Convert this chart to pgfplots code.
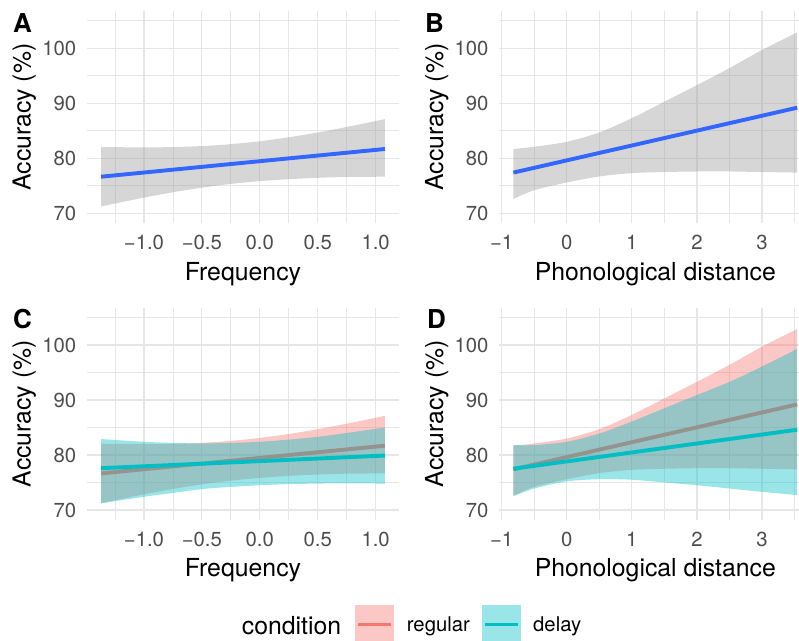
\documentclass[border=0pt]{standalone}
\usepackage{fontspec}
\setmainfont{TeX Gyre Heros}
\usepackage{pgfplots}
\pgfplotsset{compat=1.18}
\usepgfplotslibrary{fillbetween}
\definecolor{ggblue}{HTML}{3366FF}
\definecolor{ggpink}{HTML}{F8766D}
\definecolor{ggteal}{HTML}{00BFC4}
\definecolor{grid92}{RGB}{230,230,230}
\definecolor{grey30}{HTML}{4D4D4D}
\definecolor{grey60}{HTML}{999999}
\pgfplotsset{
 panel/.style={
  scale only axis, width=312.2pt, height=211.7pt, anchor=south west,
  ymin=68.25, ymax=106.75,
  ytick={70,80,90,100}, yticklabels={70,80,90,100},
  minor ytick={75,85,95,105},
  grid=both,
  major grid style={draw=grid92, line width=1.2pt},
  minor grid style={draw=grid92, line width=0.7pt},
  axis line style={draw=none},
  major tick length=0pt, minor tick length=0pt,
  tick label style={font=\fontsize{20.3}{24}\selectfont, text=grey30},
  xticklabel style={anchor=north, inner sep=0pt, yshift=-12pt},
  yticklabel style={anchor=east, inner sep=0pt, xshift=-10.5pt},
  label style={font=\fontsize{24.8}{29}\selectfont, text=black},
  xlabel style={at={(axis description cs:0.5,-0.1842)}, anchor=north, inner sep=0pt},
  ylabel style={at={(axis description cs:-0.2002,0.5)}, anchor=center, inner sep=0pt},
  ylabel={Accuracy (\%)},
 },
 freq/.style={xmin=-1.4925, xmax=1.2025, xtick={-1,-0.5,0,0.5,1},
  xticklabels={−1.0,−0.5,0.0,0.5,1.0}, minor xtick={-1.25,-0.75,-0.25,0.25,0.75}, xlabel={Frequency}},
 phon/.style={xmin=-1.038, xmax=3.758, xtick={-1,0,1,2,3},
  xticklabels={−1,0,1,2,3}, minor xtick={-0.5,0.5,1.5,2.5,3.5}, xlabel={Phonological distance}},
 edge/.style={draw=none, smooth, tension=0.5, forget plot},
 greyband/.style={draw=none, fill=grey60, fill opacity=0.4},
 pinkband/.style={draw=none, fill=ggpink, fill opacity=0.4},
 tealband/.style={draw=none, fill=ggteal, fill opacity=0.4},
}
\begin{document}
\begin{tikzpicture}
% ---------- A ----------
\begin{axis}[panel, freq, at={(86.9pt,417.1pt)}]
\addplot[edge, name path=au] coordinates {(-1.37,82.05) (-1.0,81.98) (-0.75,82.04) (-0.5,82.22) (-0.25,82.57) (0,83.10) (0.25,83.82) (0.5,84.69) (0.75,85.69) (1.08,87.12)};
\addplot[edge, name path=al] coordinates {(-1.37,71.25) (-1.0,72.85) (-0.75,73.82) (-0.5,74.66) (-0.25,75.34) (0,75.84) (0.25,76.2) (0.5,76.45) (0.75,76.6) (1.08,76.65)};
\addplot[greyband] fill between[of=au and al];
\addplot[ggblue, line width=3.9pt] coordinates {(-1.37,76.65) (1.08,81.69)};
\end{axis}
% ---------- B ----------
\begin{axis}[panel, phon, at={(499.2pt,417.1pt)}]
\addplot[edge, name path=bu] coordinates {(-0.82,81.7) (-0.5,82.1) (0,83.0) (0.5,84.7) (1,87.3) (1.5,90.3) (2,93.3) (2.5,96.4) (3,99.7) (3.54,102.9)};
\addplot[edge, name path=bl] coordinates {(-0.82,72.6) (-0.5,74.2) (0,75.6) (0.5,76.7) (1,77.3) (1.5,77.5) (2,77.6) (2.5,77.6) (3,77.5) (3.54,77.4)};
\addplot[greyband] fill between[of=bu and bl];
\addplot[ggblue, line width=3.9pt] coordinates {(-0.82,77.4) (3.54,89.2)};
\end{axis}
% ---------- C ----------
\begin{axis}[panel, freq, at={(86.9pt,120.4pt)}]
\addplot[edge, name path=cru] coordinates {(-1.37,82.05) (-1.0,81.98) (-0.75,82.04) (-0.5,82.22) (-0.25,82.57) (0,83.10) (0.25,83.82) (0.5,84.69) (0.75,85.69) (1.08,87.12)};
\addplot[edge, name path=crl] coordinates {(-1.37,71.25) (-1.0,72.85) (-0.75,73.82) (-0.5,74.66) (-0.25,75.34) (0,75.84) (0.25,76.2) (0.5,76.45) (0.75,76.6) (1.08,76.65)};
\addplot[pinkband] fill between[of=cru and crl];
\addplot[ggpink, line width=3.9pt, on layer=pre main] coordinates {(-1.37,76.65) (1.08,81.69)};
\addplot[edge, name path=cdu] coordinates {(-1.37,82.9) (-1.0,82.4) (-0.75,82.2) (-0.5,82.1) (-0.25,82.2) (0,82.4) (0.25,82.8) (0.5,83.3) (0.75,84.0) (1.08,85.0)};
\addplot[edge, name path=cdl] coordinates {(-1.37,71.2) (-1.0,72.4) (-0.75,73.1) (-0.5,73.8) (-0.25,74.2) (0,74.5) (0.25,74.7) (0.5,74.8) (0.75,74.85) (1.08,74.8)};
\addplot[tealband] fill between[of=cdu and cdl];
\addplot[ggteal, line width=3.9pt] coordinates {(-1.37,77.6) (1.08,79.9)};
\end{axis}
% ---------- D ----------
\begin{axis}[panel, phon, at={(499.2pt,120.4pt)}]
\addplot[edge, name path=dru] coordinates {(-0.82,81.7) (-0.5,82.1) (0,83.0) (0.5,84.7) (1,87.3) (1.5,90.3) (2,93.3) (2.5,96.4) (3,99.7) (3.54,102.9)};
\addplot[edge, name path=drl] coordinates {(-0.82,72.6) (-0.5,74.2) (0,75.6) (0.5,76.7) (1,77.3) (1.5,77.5) (2,77.6) (2.5,77.6) (3,77.5) (3.54,77.4)};
\addplot[pinkband] fill between[of=dru and drl];
\addplot[ggpink, line width=3.9pt, on layer=pre main] coordinates {(-0.82,77.4) (3.54,89.2)};
\addplot[edge, name path=ddu] coordinates {(-0.82,81.8) (-0.5,81.8) (0,82.4) (0.5,83.9) (1,86.1) (1.5,88.5) (2,90.9) (2.5,93.3) (3,96.1) (3.54,99.3)};
\addplot[edge, name path=ddl] coordinates {(-0.82,72.5) (-0.5,73.9) (0,75.2) (0.5,75.6) (1,75.5) (1.5,75.0) (2,74.5) (2.5,73.9) (3,73.3) (3.54,72.7)};
\addplot[tealband] fill between[of=ddu and ddl];
\addplot[ggteal, line width=3.9pt] coordinates {(-0.82,77.5) (3.54,84.6)};
\end{axis}
% ---------- panel letters ----------
\node[anchor=base west, inner sep=0pt, font=\fontsize{26}{30}\selectfont\bfseries] at (13pt,607pt) {A};
\node[anchor=base west, inner sep=0pt, font=\fontsize{26}{30}\selectfont\bfseries] at (425pt,607pt) {B};
\node[anchor=base west, inner sep=0pt, font=\fontsize{26}{30}\selectfont\bfseries] at (13pt,311pt) {C};
\node[anchor=base west, inner sep=0pt, font=\fontsize{26}{30}\selectfont\bfseries] at (427pt,311pt) {D};
% ---------- legend ----------
\node[anchor=base west, inner sep=0pt, font=\fontsize{24.8}{29}\selectfont] at (241.7pt,5.7pt) {condition};
\fill[ggpink, fill opacity=0.4] (355pt,-4pt) rectangle (394pt,35pt);
\draw[ggpink, line width=3.9pt] (358pt,15.5pt) -- (391pt,15.5pt);
\node[anchor=base west, inner sep=0pt, font=\fontsize{20.3}{24}\selectfont] at (406.7pt,9pt) {regular};
\fill[ggteal, fill opacity=0.4] (482pt,-4pt) rectangle (521pt,35pt);
\draw[ggteal, line width=3.9pt] (485pt,15.5pt) -- (518pt,15.5pt);
\node[anchor=base west, inner sep=0pt, font=\fontsize{20.3}{24}\selectfont] at (533pt,9pt) {delay};
\pgfresetboundingbox
\path[use as bounding box] (0pt,0pt) rectangle (799pt,640pt);
\end{tikzpicture}
\end{document}
